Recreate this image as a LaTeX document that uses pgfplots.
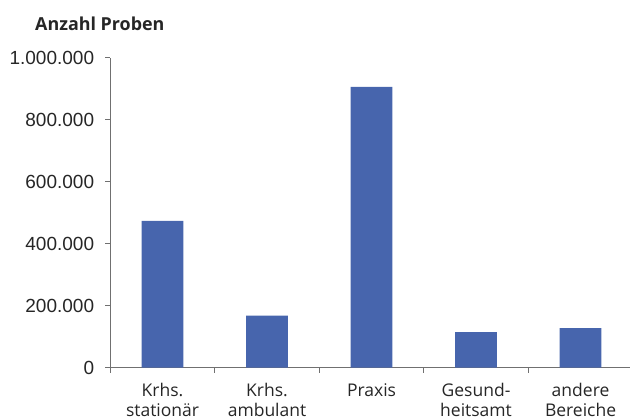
\documentclass[border=0pt]{standalone}
\usepackage{fontspec}
\setmainfont{Open Sans}
\newfontfamily\numfont{Liberation Sans}
\usepackage{pgfplots}
\pgfplotsset{compat=1.18}

\definecolor{barblue}{HTML}{4765AD}
\definecolor{axisgray}{HTML}{707070}
\definecolor{txt}{HTML}{262626}

\begin{document}
\begin{tikzpicture}
\begin{axis}[
    scale only axis,
    width=522.5bp,
    height=310bp,
    clip=false,
    xmin=-0.5, xmax=4.5,
    ymin=0, ymax=1000000,
    axis x line=bottom,
    axis y line=left,
    axis line style={-, axisgray, line width=1.2bp},
    tick style={axisgray, line width=1.2bp},
    tick align=outside,
    major tick length=5bp,
    minor tick length=5bp,
    ytick={0,200000,...,1000000},
    scaled y ticks=false,
    /pgf/number format/.cd, fixed, 1000 sep={.}, assume math mode=true,
    /pgfplots/.cd,
    yticklabel style={font=\numfont\fontsize{19bp}{21bp}\selectfont, text=txt, anchor=east, inner sep=0pt, xshift=-11bp},
    xtick={0,...,4},
    major x tick style={draw=none},
    minor xtick={-0.5,0.5,1.5,2.5,3.5},
    xticklabels={{Krhs.\\stationär},{Krhs.\\ambulant},Praxis,{Gesund-\\heitsamt},{andere\\Bereiche}},
    xticklabel style={font=\fontsize{17.5bp}{20bp}\selectfont, text=txt, align=center, anchor=north, inner sep=0pt, yshift=-10.5bp},
    ybar,
    bar width=0.4,
]
\addplot[fill=barblue, draw=none] coordinates {
    (0,474000) (1,168000) (2,906000) (3,115000) (4,128000)
};
\node[anchor=base west, font=\bfseries\fontsize{17.9bp}{20bp}\selectfont, text=txt, inner sep=0pt]
    at (rel axis cs:0,1) [xshift=-75.3bp, yshift=27bp] {Anzahl Proben};
\end{axis}
\pgfresetboundingbox
\path[use as bounding box] (-110.3bp,-49.3bp) rectangle (519.7bp,367.7bp);
\end{tikzpicture}
\end{document}
